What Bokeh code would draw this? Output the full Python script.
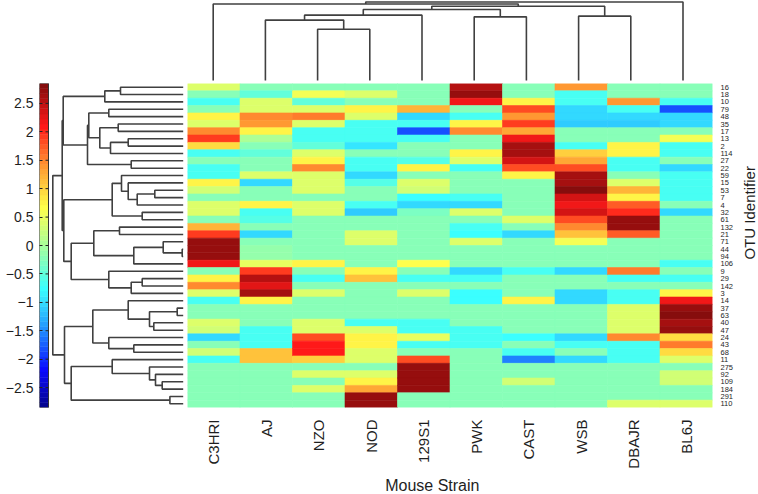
import math
import numpy as np
from bokeh.plotting import figure
from bokeh.layouts import column, row
from bokeh.models import (ColumnDataSource, LinearColorMapper, LinearAxis,
                          FixedTicker, Range1d)
from bokeh.core.properties import value
from bokeh.transform import transform
from bokeh.embed import file_html
from bokeh.resources import INLINE

# ---------------- data ----------------
strains = ["C3HRI", "AJ", "NZO", "NOD", "129S1", "PWK", "CAST", "WSB", "DBAJR", "BL6J"]
otu_ids = ["16", "18", "10", "79", "48", "35", "17", "13", "2", "114",
           "27", "22", "59", "15", "53", "7", "4", "32", "61", "132",
           "21", "71", "44", "94", "106", "9", "29", "142", "3", "14",
           "37", "63", "40", "47", "24", "43", "68", "11", "275", "92",
           "109", "184", "291", "110"]
x_title = "Mouse Strain"
y_title = "OTU Identifier"

# z-scores per strain, top row (OTU 16) first
c3hri = [0.4, -0.25, -0.65, -0.2, 0.8, 0.4, 1.5, 1.9, 0.9, -0.65,
         -0.25, -0.65, -0.65, 0.8, 0.3, -0.25, 0.4, 0.4, -0.25, 1.2,
         1.9, 2.7, 2.7, 2.7, 2.2, -0.25, 0.8, 1.5, 0.4, -0.65,
         -0.25, -0.25, 0.4, 0.3, -1.0, -0.25, 0.3, -0.65, -0.25, -0.25,
         -0.25, -0.25, -0.25, -0.25]
aj = [-0.25, -0.45, 0.4, 0.4, 1.5, 1.4, 0.8, 0.05, -0.25, -0.45,
      -0.25, -0.25, 0.4, -1.0, -0.25, -0.25, 0.8, -0.65, -0.55, -0.25,
      -1.0, -0.2, -0.15, -0.15, 0.5, 1.9, 2.5, 2.3, 2.6, 0.8,
      -0.25, -0.25, -0.25, -0.65, -0.65, -0.65, 1.1, 1.1, -0.25, -0.25,
      -0.25, -0.25, -0.25, -0.25]
nzo = [-0.25, 0.6, -0.45, 0.4, 1.6, 0.4, -0.65, -0.65, -0.45, 0.4,
       0.8, 1.5, 0.4, 0.4, 0.4, -0.25, 0.4, 0.4, -0.25, -0.25,
       -0.25, -0.25, -0.25, -0.25, 0.8, -0.25, -0.65, -0.25, 0.4, -0.25,
       -0.25, -0.25, 0.4, 0.4, 1.8, 2.1, 2.1, 1.0, -0.25, 0.4,
       -0.25, 0.4, -0.25, -0.25]
nod = [-0.25, 0.4, -0.25, 0.8, 0.4, -0.65, -0.65, -0.65, -0.9, -0.25,
       -0.65, -0.65, -1.0, -0.55, -0.25, -0.25, -0.65, -1.1, -0.25, -0.25,
       0.4, 0.4, -0.25, -0.25, -0.25, 0.8, 1.1, -0.25, -0.25, -0.25,
       -0.25, -0.25, -0.65, 0.4, 0.8, 0.8, 0.4, 0.4, -0.25, 0.4,
       0.8, 1.3, 2.7, 2.7]
s129s1 = [-0.25, -0.25, -0.25, 1.2, -1.0, -0.65, -1.8, -0.65, -0.25, -0.25,
          -0.55, 0.8, -0.25, 0.4, 0.3, -0.75, -1.0, -0.35, -0.25, -0.25,
          -0.25, -0.25, -0.25, -0.25, 0.7, -0.25, -0.65, -0.25, 0.4, -0.25,
          -0.25, -0.25, -0.65, -0.65, 0.5, -0.65, -0.25, 1.8, 2.7, 2.7,
          2.7, 2.7, -0.25, -0.25]
pwk = [2.5, 2.75, 2.2, -0.25, -0.65, 0.8, 1.5, -0.25, -0.25, 0.8,
       0.4, -0.65, -0.25, -0.25, -0.25, -0.65, -1.0, 0.4, -0.25, -0.65,
       -0.75, 0.4, -0.25, -0.25, -0.25, -1.0, -0.65, -0.25, -0.8, -0.8,
       -0.25, -0.25, -0.25, -0.65, -0.65, -0.65, -0.25, -0.25, -0.25, -0.25,
       -0.25, -0.25, -0.25, -0.25]
cast = [-0.25, -0.25, 0.8, 1.8, 1.4, 1.9, 1.3, 2.2, 2.6, 2.6,
        2.4, 1.8, 0.8, -0.25, -0.25, -0.25, -0.25, -0.25, 0.4, -0.25,
        -1.0, -0.25, -0.25, -0.25, -0.25, -0.65, -0.25, -0.25, -0.25, 0.8,
        -0.25, -0.25, -0.25, -0.25, -0.75, -0.25, -0.65, -1.6, -0.25, -0.25,
        0.3, -0.25, -0.25, -0.25]
wsb = [1.4, -0.65, -0.65, -1.0, -1.0, -1.1, -0.25, -0.25, -0.65, 1.0,
       1.3, 1.8, 2.6, 2.6, 2.8, 2.4, 2.2, 2.4, 1.8, 1.5,
       1.1, 0.6, -0.25, -0.25, -0.25, -1.0, -0.25, -0.25, -1.0, -1.0,
       -0.25, -0.25, -0.25, -0.25, -1.0, -0.65, -0.25, -1.0, -0.25, -0.25,
       -0.25, -0.25, -0.25, -0.25]
dbajr = [-0.25, -0.25, 1.4, -0.65, -1.0, -1.1, -0.25, -0.25, 0.8, 0.8,
         -0.65, -0.65, -0.25, 0.4, 1.2, 0.8, 1.7, 2.0, 2.7, 2.7,
         1.7, -0.25, -0.25, -0.25, -0.25, 1.6, -0.65, -0.25, -0.65, -0.65,
         0.4, 0.4, 0.4, 0.4, 1.5, -0.65, -0.65, -0.65, -0.25, -0.25,
         -0.25, -0.25, -0.25, 0.4]
bl6j = [-0.25, -0.25, -0.65, -1.8, -1.0, -1.0, -0.25, 0.6, -0.65, -0.65,
        -0.25, -1.0, -0.65, -0.65, -0.65, -0.65, -0.25, -1.0, -0.25, -0.25,
        -0.25, -0.25, -0.25, -0.25, -0.65, -0.25, -0.65, -0.25, 0.8, 2.2,
        2.7, 2.8, 2.6, 2.7, 0.9, 1.6, 0.9, 0.4, -0.25, 0.3,
        0.3, -0.25, -0.25, 0.4]
strain_values = [c3hri, aj, nzo, nod, s129s1, pwk, cast, wsb, dbajr, bl6j]

# row dendrogram (leaves = rows in display order; new clusters numbered from 44)
row_link_a = [0, 44, 3, 5, 7, 48, 47, 46, 10, 51, 45,
              14, 55, 13, 12, 17, 58, 19, 22, 21, 63, 61, 26, 66, 25, 65, 60, 54,
              30, 32, 72, 29, 35, 34, 75, 40, 39, 38, 37, 42, 82, 78, 71]
row_link_b = [1, 2, 4, 6, 8, 9, 49, 50, 11, 52, 53,
              15, 16, 56, 57, 18, 59, 20, 23, 62, 24, 64, 27, 28, 67, 68, 69, 70,
              31, 33, 73, 74, 36, 76, 77, 41, 79, 80, 81, 43, 83, 84, 85]
row_link_h = [62.7, 78.4, 74.4, 65.0, 55.0, 72.7, 83.4, 94.4, 52.0, 95.7, 120.0,
              28.4, 46.0, 55.0, 61.7, 41.0, 71.0, 63.7, 1.0, 20.0, 49.4, 89.4,
              41.0, 52.0, 74.4, 112.0, 119.4, 121.0,
              6.0, 29.4, 33.7, 55.0, 49.4, 74.4, 90.4, 21.0, 27.7, 33.7, 71.0,
              13.3, 112.0, 118.7, 130.4]

# column dendrogram (leaves = strains in display order; new clusters from 10)
col_link_a = [2, 1, 11, 5, 12, 7, 14, 0, 17]
col_link_b = [3, 10, 4, 6, 13, 8, 15, 16, 9]
col_link_h = [51.7, 61.0, 66.0, 64.3, 71.7, 65.0, 75.0, 77.3, 79.3]

cbar_ticks = [-2.5, -2.0, -1.5, -1.0, -0.5, 0.0, 0.5, 1.0, 1.5, 2.0, 2.5]
cbar_labels = ["\u22122.5", "\u22122", "\u22121.5", "\u22121", "\u22120.5", "0",
               "0.5", "1", "1.5", "2", "2.5"]
VMIN, VMAX = -2.85, 2.85

# ---------------- layout constants (px) ----------------
W, H = 758, 494
HL, HR, HT, HB = 187, 717, 83, 407     # heatmap box on the page
CB_L = 39                              # colour bar left edge
RIGHT_PANEL = 19                       # room for the OTU tick labels
BOTTOM_PANEL = 70                      # room for the strain tick labels
N_ROWS, N_COLS = len(otu_ids), len(strains)
ROW_LEAF_X = 182.7                     # where row-dendrogram leaves end
COL_LEAF0_X, COL_LEAF_DX = 212.7, 52.2
COL_LEAF_Y, COL_H_SCALE = 80.0, 0.99
X_TITLE_POS = (443, 485)               # centre of the x title on the page
Y_TITLE_POS = (748.5, 247)             # centre of the y title on the page
FONT = "Liberation Sans"
INK = "#1e1e1e"
DEND = "#404040"
LIGHTEN = 0.33                         # washed-out look of the printed colours


def matlab_jet(m=64):
    n = int(math.ceil(m / 4))
    u = np.concatenate([np.arange(1, n + 1) / n, np.ones(n - 1), np.arange(n, 0, -1) / n])
    g = int(math.ceil(n / 2)) - (1 if m % 4 == 1 else 0) + np.arange(1, len(u) + 1)
    J = np.zeros((m, 3))
    for idx, ch in ((g + n, 0), (g, 1), (g - n, 2)):
        ok = (idx >= 1) & (idx <= m)
        J[idx[ok] - 1, ch] = u[ok]
    lum = J @ np.array([0.299, 0.587, 0.114])
    J = J + (1 - J) * (LIGHTEN * lum)[:, None]
    return ["#%02x%02x%02x" % tuple(int(round(c * 255)) for c in row) for row in J]


def dendro(a_list, b_list, h_list, n_leaves):
    pos = [float(i) for i in range(n_leaves)]
    hgt = [0.0] * n_leaves
    path_pos, path_h = [], []
    for a, b, h in zip(a_list, b_list, h_list):
        path_pos.append([pos[a], pos[a], pos[b], pos[b]])
        path_h.append([hgt[a], h, h, hgt[b]])
        pos.append((pos[a] + pos[b]) / 2)
        hgt.append(h)
    return path_pos, path_h


def blank_fig(**kw):
    f = figure(x_axis_type=None, y_axis_type=None, toolbar_location=None,
               output_backend="svg", **kw)
    f.outline_line_color = None
    f.background_fill_color = "white"
    f.border_fill_color = "white"
    return f


palette = matlab_jet(64)
mapper = LinearColorMapper(palette=palette, low=VMIN, high=VMAX)

# ---------------- top: column dendrogram ----------------
top = blank_fig(width=W, height=HT,
                x_range=Range1d(-COL_LEAF0_X / COL_LEAF_DX, (W - COL_LEAF0_X) / COL_LEAF_DX),
                y_range=Range1d((COL_LEAF_Y - HT) / COL_H_SCALE, COL_LEAF_Y / COL_H_SCALE),
                min_border_left=0, min_border_right=0, min_border_top=0, min_border_bottom=0)
cp, ch = dendro(col_link_a, col_link_b, col_link_h, N_COLS)
top.multi_line(xs=cp, ys=ch, line_color=DEND, line_width=1.6)

# ---------------- left: colour bar + row dendrogram ----------------
left = blank_fig(width=HL, height=H - HT,
                 x_range=Range1d(0, HL - CB_L), y_range=Range1d(VMIN, VMAX),
                 min_border_left=CB_L, min_border_right=0, min_border_top=0,
                 min_border_bottom=H - HB)
left.extra_x_ranges = {"dl": Range1d(ROW_LEAF_X - CB_L, ROW_LEAF_X - HL)}
left.extra_y_ranges = {"rows": Range1d(0, N_ROWS)}

edges = np.linspace(VMIN, VMAX, len(palette) + 1)
left.quad(left=0, right=9, bottom=edges[:-1], top=edges[1:], fill_color=palette,
          line_color=palette, line_width=0.5)
left.quad(left=0, right=9, bottom=VMIN, top=VMAX, fill_color=None,
          line_color="#333333", line_width=1)
left.segment(x0=6, x1=9, y0=cbar_ticks, y1=cbar_ticks, line_color="#222222", line_width=1)

cb_axis = LinearAxis(ticker=FixedTicker(ticks=cbar_ticks),
                     major_label_overrides=dict(zip(cbar_ticks, cbar_labels)))
cb_axis.axis_line_color = None
cb_axis.major_tick_in = 3
cb_axis.major_tick_out = 0
cb_axis.major_tick_line_color = "#222222"
cb_axis.minor_tick_line_color = None
cb_axis.major_label_standoff = 6
cb_axis.major_label_text_font = FONT
cb_axis.major_label_text_font_size = "14px"
cb_axis.major_label_text_color = INK
left.add_layout(cb_axis, "left")

rp, rh = dendro(row_link_a, row_link_b, row_link_h, N_ROWS)
left.multi_line(xs=rh, ys=[[N_ROWS - 0.5 - q for q in path] for path in rp],
                x_range_name="dl", y_range_name="rows", line_color=DEND, line_width=1.6)

# ---------------- main: heatmap ----------------
MAIN_W = HR - HL + RIGHT_PANEL
MAIN_H = HB - HT + BOTTOM_PANEL
main = blank_fig(width=MAIN_W, height=MAIN_H,
                 x_range=Range1d(0, N_COLS), y_range=Range1d(0, N_ROWS),
                 min_border_left=0, min_border_right=RIGHT_PANEL, min_border_top=0,
                 min_border_bottom=BOTTOM_PANEL)
xs, ys, vs = [], [], []
for ci, col in enumerate(strain_values):
    for ri, v in enumerate(col):
        xs.append(ci + 0.5)
        ys.append(N_ROWS - ri - 0.5)
        vs.append(v)
src = ColumnDataSource(dict(x=xs, y=ys, v=vs))
main.rect(x="x", y="y", width=1, height=1, source=src,
          fill_color=transform("v", mapper), line_color=transform("v", mapper),
          line_width=0.6)

col_ticks = [i + 0.5 for i in range(N_COLS)]
xaxis = LinearAxis(ticker=FixedTicker(ticks=col_ticks),
                   major_label_overrides=dict(zip(col_ticks, strains)))
xaxis.major_label_orientation = math.pi / 2
xaxis.axis_line_color = None
xaxis.major_tick_line_color = None
xaxis.minor_tick_line_color = None
xaxis.major_label_standoff = 6
xaxis.major_label_text_font = FONT
xaxis.major_label_text_font_size = "15px"
xaxis.major_label_text_color = INK
main.add_layout(xaxis, "below")

row_ticks = [N_ROWS - 0.5 - r for r in range(N_ROWS)]
yaxis = LinearAxis(ticker=FixedTicker(ticks=row_ticks),
                   major_label_overrides=dict(zip(row_ticks, otu_ids)))
yaxis.axis_line_color = None
yaxis.major_tick_line_color = None
yaxis.minor_tick_line_color = None
yaxis.major_label_standoff = 2
yaxis.major_label_text_font = FONT
yaxis.major_label_text_font_size = "7.5px"
yaxis.major_label_text_color = INK
main.add_layout(yaxis, "right")

# ---------------- strips holding the axis titles ----------------
XS_H = H - HT - MAIN_H
xstrip = blank_fig(width=MAIN_W, height=XS_H, x_range=Range1d(HL, HL + MAIN_W),
                   y_range=Range1d(H, H - XS_H),
                   min_border_left=0, min_border_right=0, min_border_top=0,
                   min_border_bottom=0)
xstrip.text(x=[X_TITLE_POS[0]], y=[X_TITLE_POS[1]], text=[x_title],
            text_align="center", text_baseline="middle", text_font=value(FONT),
            text_font_size="16px", text_color=INK)

YS_W = W - HL - MAIN_W
ystrip = blank_fig(width=YS_W, height=H - HT, x_range=Range1d(W - YS_W, W),
                   y_range=Range1d(H, HT),
                   min_border_left=0, min_border_right=0, min_border_top=0,
                   min_border_bottom=0)
ystrip.text(x=[Y_TITLE_POS[0]], y=[Y_TITLE_POS[1]], text=[y_title], angle=math.pi / 2,
            text_align="center", text_baseline="middle", text_font=value(FONT),
            text_font_size="15px", text_color=INK)

layout = column(top, row(left, column(main, xstrip, spacing=0), ystrip, spacing=0),
                spacing=0)
open("out.html", "w").write(file_html(layout, INLINE))
